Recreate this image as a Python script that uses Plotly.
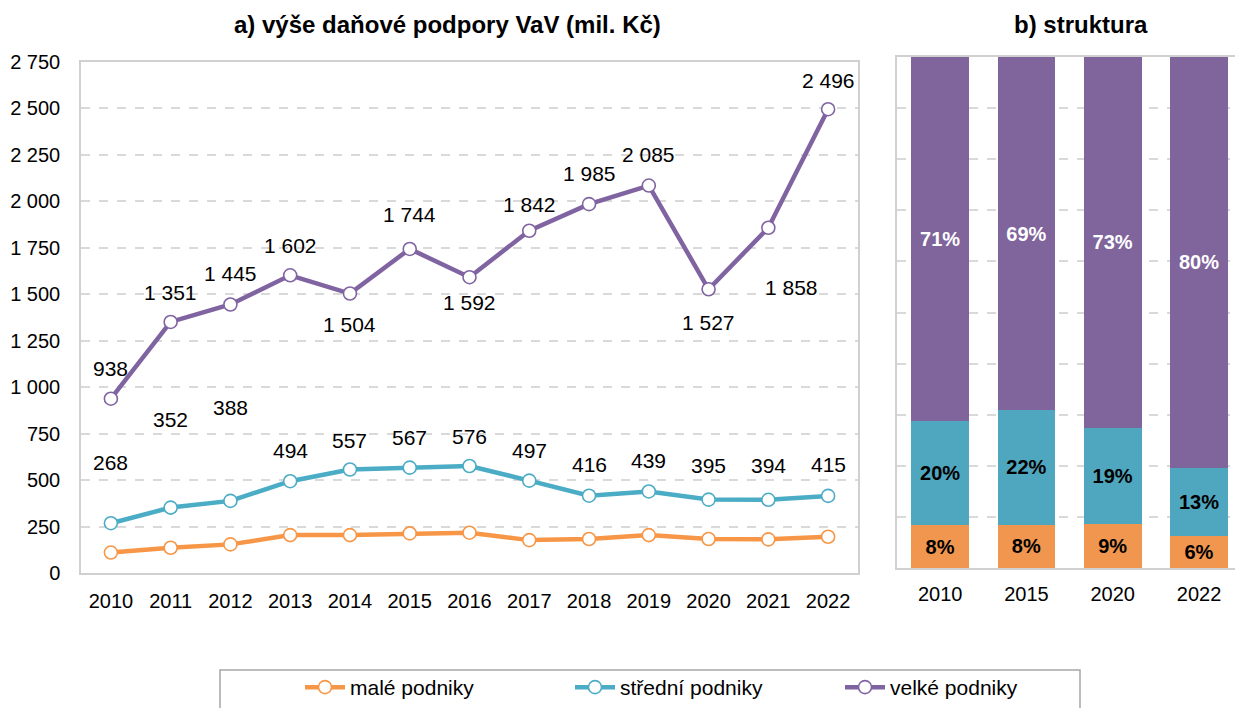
import plotly.graph_objects as go

# ---------------- data ----------------
years = list(range(2010, 2023))
male = [110, 136, 154, 204, 204, 213, 217, 177, 183, 204, 183, 181, 195]
stredni = [268, 352, 388, 494, 557, 567, 576, 497, 416, 439, 395, 394, 415]
velke = [938, 1351, 1445, 1602, 1504, 1744, 1592, 1842, 1985, 2085, 1527, 1858, 2496]
struct_years = [2010, 2015, 2020, 2022]
y_ticks = [0, 250, 500, 750, 1000, 1250, 1500, 1750, 2000, 2250, 2500, 2750]

names = ["malé podniky", "střední podniky", "velké podniky"]
colors = ["#F79646", "#4BACC6", "#8064A2"]
bar_colors = ["#F0964F", "#4FA6BF", "#7F659C"]

# label offsets (style only)
teal_yshift = [61, 88, 93, 31, 29, 30, 29, 30, 31, 31, 34, 34, 31]
purple_yshift = [30, 29, 31, 30, -31, 34, -25, 26, 31, 31, -33, -60, 29]
purple_xshift = [0, 0, 0, 0, 0, 0, 0, 0, 0, 0, 0, 23, 0]

FONT = "Liberation Sans, Arial, sans-serif"
W, H = 1235, 708


def fmt(v):
    return f"{v:,}".replace(",", " ")


fig = go.Figure()

# ---- left: lines ----
for name, col, vals in zip(names, colors, [male, stredni, velke]):
    fig.add_trace(go.Scatter(
        x=years, y=vals, name=name, mode="lines+markers",
        line=dict(color=col, width=4.5),
        marker=dict(symbol="circle", size=13, color="white",
                    line=dict(color=col, width=1.6)),
        xaxis="x", yaxis="y", showlegend=True,
    ))

annotations = []
for i, yr in enumerate(years):
    annotations.append(dict(x=yr, y=stredni[i], xref="x", yref="y",
                            text=fmt(stredni[i]), showarrow=False,
                            yshift=teal_yshift[i], yanchor="middle",
                            font=dict(family=FONT, size=21, color="black")))
    annotations.append(dict(x=yr, y=velke[i], xref="x", yref="y",
                            text=fmt(velke[i]), showarrow=False,
                            yshift=purple_yshift[i], xshift=purple_xshift[i],
                            yanchor="middle",
                            font=dict(family=FONT, size=21, color="black")))

# ---- right: 100% stacked bars ----
idx = [years.index(y) for y in struct_years]
totals = [male[i] + stredni[i] + velke[i] for i in idx]
series = [male, stredni, velke]
cats = [str(y) for y in struct_years]
text_colors = ["black", "black", "white"]
for s, name, col, tc in zip(series, names, bar_colors, text_colors):
    shares = [s[i] / t * 100 for i, t in zip(idx, totals)]
    fig.add_trace(go.Bar(
        x=cats, y=shares, name=name, marker=dict(color=col, line=dict(width=0)),
        text=[f"{round(v)}%" for v in shares], textposition="inside",
        insidetextanchor="middle", textangle=0, constraintext="none",
        textfont=dict(family=FONT, size=20, color=tc, weight="bold"),
        xaxis="x2", yaxis="y2", showlegend=False, width=0.667,
    ))

# titles
annotations.append(dict(x=447 / W, y=1 - 25 / H, xref="paper", yref="paper",
                        text="<b>a) výše daňové podpory VaV (mil. Kč)</b>",
                        showarrow=False, yanchor="middle", xanchor="center",
                        font=dict(family=FONT, size=24, color="black")))
annotations.append(dict(x=1081 / W, y=1 - 25 / H, xref="paper", yref="paper",
                        text="<b>b) struktura</b>", showarrow=False,
                        yanchor="middle", xanchor="center",
                        font=dict(family=FONT, size=24, color="black")))

grid = "#D9D9D9"
border = "#D0D0D0"

fig.update_layout(
    width=W, height=H,
    margin=dict(l=0, r=0, t=0, b=0, pad=0, autoexpand=False),
    paper_bgcolor="white", plot_bgcolor="white",
    font=dict(family=FONT, size=20, color="black"),
    separators=", ",
    barmode="stack",
    annotations=annotations,
    xaxis=dict(domain=[81 / W, 858 / W], range=[2009.5, 2022.5],
               tickvals=years, ticktext=[str(y) for y in years],
               showgrid=False, zeroline=False, showline=True, mirror=True,
               linecolor=border, linewidth=1.5, ticks="",
               ticklabelstandoff=9, automargin=False,
               tickfont=dict(size=20), anchor="y"),
    yaxis=dict(domain=[1 - 573 / H, 1 - 62 / H], range=[0, 2750],
               tickvals=y_ticks, ticktext=[fmt(v) for v in y_ticks],
               showgrid=True, gridcolor=grid, griddash="dash", gridwidth=1.5,
               zeroline=False, showline=True, mirror=True,
               linecolor=border, linewidth=1.5, ticks="",
               ticklabelstandoff=15, automargin=False,
               tickfont=dict(size=20), anchor="x"),
    xaxis2=dict(domain=[897 / W, 1.0], range=[-0.5, 3.417], type="category",
                showgrid=False, zeroline=False, showline=True, mirror=True,
                linecolor=border, linewidth=1.5, ticks="",
                ticklabelstandoff=7, automargin=False,
                tickfont=dict(size=20), anchor="y2"),
    yaxis2=dict(domain=[1 - 568 / H, 1 - 57 / H], range=[0, 100], dtick=10,
                showticklabels=False, showgrid=True, gridcolor=grid,
                griddash="dash", gridwidth=1.5, zeroline=False,
                showline=True, linecolor=border, linewidth=1.5, ticks="",
                automargin=False, anchor="x2"),
    legend=dict(orientation="h", x=300 / W, xanchor="left",
                y=0, yanchor="bottom", traceorder="normal",
                font=dict(size=21), bgcolor="rgba(0,0,0,0)",
                entrywidth=215, entrywidthmode="pixels", itemwidth=40),
    shapes=[dict(type="rect", xref="paper", yref="paper",
                 x0=220 / W, x1=1080 / W, y0=-0.05, y1=1 - 670 / H,
                 line=dict(color="#A6A6A6", width=1.5), fillcolor="rgba(0,0,0,0)",
                 layer="below")],
)

fig.write_html("out.html",
               config={"displayModeBar": False},
               post_script="document.body.style.margin='0';document.body.style.overflow='hidden';")
